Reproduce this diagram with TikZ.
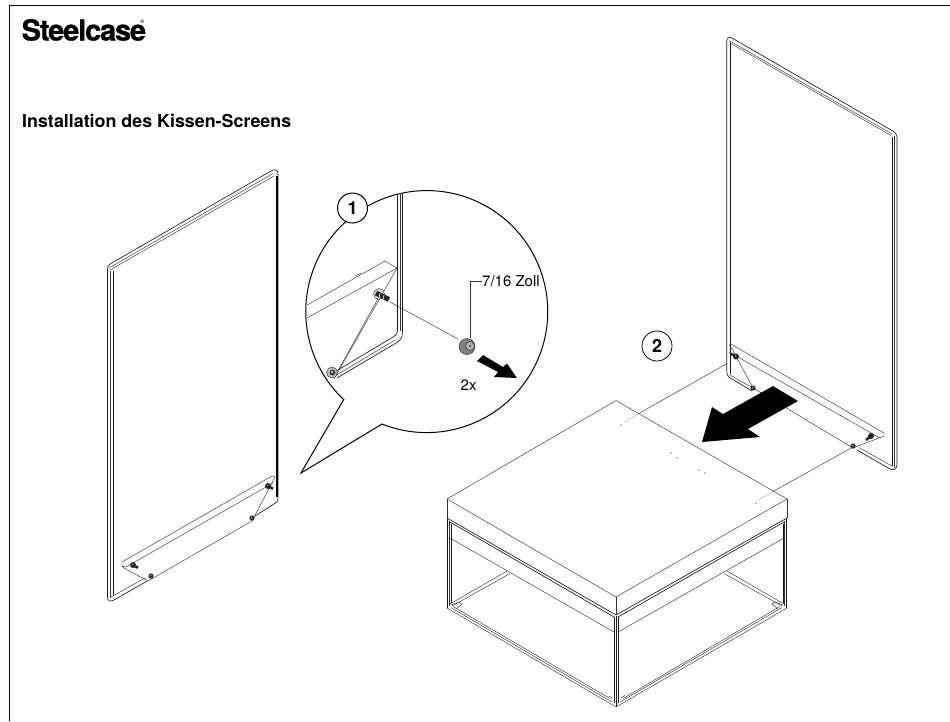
\documentclass[tikz,border=0pt]{standalone}
\usepackage{fontspec}
\setmainfont{TeX Gyre Heros}
\tikzset{
  thin line/.style={line width=0.45pt,draw=black!80},
  frame line/.style={line width=0.65pt,draw=black!90},
  heavy line/.style={line width=1.1pt,draw=black},
  pale line/.style={line width=0.4pt,draw=black!35},
  solid arrow/.style={fill=black,draw=none},
  label text/.style={inner sep=0pt,font=\fontsize{15}{16}\selectfont},
  mark dot/.style={fill=black!45,draw=none},
  step number/.style={circle,draw=black,fill=white,minimum size=30pt,inner sep=0pt,font=\fontsize{18}{20}\bfseries},
}
\newcommand{\screwat}[3]{%
  \draw[line width=2.6pt,black!85] (#1,#2) -- (#1+#3,#2+#3*0.55);
  \fill[black!85] (#1,#2) circle (3);
  \fill[black!35] (#1-0.4,#2-0.6) circle (0.8);
}
\newcommand{\rivetat}[2]{%
  \fill[black!80] (#1,#2) circle (2.7);
  \fill[black!40] (#1-0.5,#2-0.5) circle (0.8);
}
\begin{document}
\begin{tikzpicture}[x=1pt,y=-1pt]
\useasboundingbox (0,0) rectangle (950,721);
\fill[white] (0,0) rectangle (950,721);
% page frame
\draw[line width=0.8pt] (950,5) -- (9.5,5) -- (9.5,721);
% heading
\node[anchor=base west,inner sep=0pt] (logo) at (21.5,40.5)
  {\fontsize{29}{30}\bfseries\addfontfeature{LetterSpace=-4,FakeBold=0.8}Steelcase};
\node[anchor=base west,inner sep=0pt] (reg) at (140.5,23)
  {\fontsize{5}{5}\selectfont ®};
\node[anchor=base west,inner sep=0pt] (title) at (22,127.5)
  {\fontsize{17.85}{20}\bfseries Installation des Kissen-Screens};

% ---------- left panel
\draw[frame line,line join=round] (147,581) -- (114,600) .. controls (110,602) and (107.5,601) .. (107.5,597) -- (107.5,269)
  .. controls (107.5,266) and (108,265) .. (111,263.5) -- (271,171) .. controls (275,168.5) and (278,170) .. (278,174) -- (278,497)
  .. controls (278,501) and (277,503) .. (274,504) -- (255,516);
\draw[thin line] (111,597) -- (145,578);
\draw[thin line] (109,268) -- (273,173.5);
\draw[thin line] (110,270) -- (274,176);
\draw[thin line] (110.5,271) -- (110.5,598);
\draw[frame line] (113.5,271) -- (113.5,596);
\draw[heavy line,line width=2pt] (276.5,176) -- (276.5,497);
% bracket left
\draw[thin line] (122,562) -- (272,476) -- (275,477) -- (252,521) -- (148,581) -- (124,568) -- (122,566) -- cycle;
\draw[thin line] (126,567) -- (273,483);
\draw[thin line] (122,566) -- (126,567);
\screwat{133}{565}{5}
\screwat{268}{486}{5}
\rivetat{151}{576}
\rivetat{252}{518}

% ---------- bubble
\draw[line width=1pt,fill=white,line join=miter] (344,399) -- (301,473) -- (382,424)
  arc[start angle=111.7,end angle=-226.7,radius=121] -- cycle;
% detail in bubble
\draw[frame line] (397.5,194) -- (397.5,330) .. controls (397.5,334) and (396,335) .. (393,337) -- (333,373);
\draw[thin line] (400,193) -- (400,331);
\draw[frame line] (402.5,193) -- (402.5,332) .. controls (402.5,338) and (400,341) .. (396,343) -- (337,378);
\draw[thin line] (395,340) -- (335,376);
\draw[thin line] (307,305) -- (385,261) -- (397,268) -- (334,379);
\draw[thin line] (307,318) -- (397,268);
\draw[thin line] (339,369) -- (380,295);
\draw[thin line] (390,302) -- (458,339);
\draw[thin line] (355,276) -- (361,273);
% screw in bubble
\draw[thin line,fill=black!15] (379,294) circle (5.5);
\draw[line width=5pt,black!85] (376,293) -- (389,299.5);
\draw[line width=0.6pt,white] (380,293) -- (379,298) (384,295) -- (383,300);
% nut on panel
\draw[thin line,fill=black!25] (332,372.5) circle (5.5);
\fill[black!75] (332.5,372.5) circle (3);
\fill[black!15] (332,372) circle (1.2);
% nut
\node[circle,inner sep=0pt,minimum size=16pt,fill=black!50,draw=black!80,line width=0.5pt] (nut) at (467,346.5) {};
\draw[line width=0.6pt,black!75,fill=black!30] (470,346) circle (4.5);
\fill[black!70] (470,346) circle (1.2);
\node[label text,anchor=base west] (size) at (482,286) {7/16 Zoll};
\draw[thin line] (size.west |- 0,281) -- (470,281) -- (nut.north -| 470,0);
\fill[solid arrow] (477,361) -- (483,355) -- (503,367) -- (507,363.5) -- (517,378) -- (494,377) -- (498,372) -- cycle;
\node[label text,anchor=base west] (count) at (460.5,390) {2x};
\node[step number,line width=1pt] (one) at (352.5,208) {1};

% ---------- right panel
\draw[frame line,line join=round] (752,391) -- (732,379) .. controls (728,377) and (726.8,375) .. (726.8,371) -- (726.8,41)
  .. controls (726.8,38) and (729,36.5) .. (732,38) -- (891,130) .. controls (895,132) and (897,134) .. (897,138) -- (897,464)
  .. controls (897,469) and (894,471) .. (890,469) -- (857,450);
\draw[frame line] (730,42) -- (730,374);
\draw[thin line] (730,375) -- (752,387.5);
\draw[thin line] (729,40.5) -- (892,134);
\draw[thin line] (730,43) -- (891,135.5);
\draw[frame line] (892.3,137) -- (892.3,466);
\draw[thin line] (894.6,136) -- (894.6,468);
\draw[thin line] (859,447.5) -- (892,466);
% bracket right
\draw[thin line] (729,346) -- (731,344) -- (884,433) -- (884,436) -- (853,448) -- (753,388) -- (730,345);
\draw[thin line] (729,352) -- (880,438);
\screwat{736}{356.5}{-5}
\draw[line width=2.6pt,black!85] (866,440) -- (871,436);
\fill[black!85] (871,436) circle (3);
\rivetat{753}{388}
\rivetat{853}{446}

% guide lines
\draw[thin line] (727,363.5) -- (638,414);
\draw[pale line] (638,414) -- (625,422);
\draw[thin line] (853,447) -- (773,491.5);
\draw[pale line] (773,491.5) -- (758,500);

% ---------- table
\draw[thin line] (616,400.5) -- (787,499) -- (616,597) -- (447,499) -- cycle;
\draw[thin line] (447,499) -- (447,518);
\draw[thin line] (787,499) -- (787,518);
\draw[thin line] (616,597) -- (616,615);
\draw[frame line] (447,518) -- (616,615) -- (787,518);
\draw[frame line] (450,522) -- (614,617);
\draw[frame line] (618,617) -- (784,522);
\draw[thin line] (450,538) -- (614,632);
\draw[thin line] (618,632) -- (784,538);
% legs
\draw[frame line] (447.3,518) -- (447.3,608);
\draw[thin line] (449.5,521) -- (449.5,606);
\draw[frame line] (451,524) -- (451,603);
\draw[frame line] (786.7,518) -- (786.7,608);
\draw[thin line] (784.5,521) -- (784.5,606);
\draw[frame line] (783,524) -- (783,603);
\draw[frame line] (616,616) -- (616,707);
\draw[frame line] (614,617) -- (614,703);
\draw[frame line] (618,617) -- (618,703);
% floor bars
\draw[thin line] (447,608) -- (616,707) -- (787,608);
\draw[thin line] (451,607.6) -- (612,702);
\draw[thin line] (453,606.5) -- (610,698.5);
\draw[thin line] (782,607.6) -- (620,702);
\draw[thin line] (780,606.5) -- (623,698.5);
\draw[thin line] (450,604) -- (507,571);
\draw[thin line] (452,606) -- (510,573.5);
\draw[thin line] (784,604) -- (727,571);
\draw[thin line] (782,606) -- (724,573.5);
% corner pads
\draw[thin line] (451,605) -- (459,602) -- (462,604) -- (456,609);
\draw[thin line] (783,605) -- (775,602) -- (772,604) -- (778,609);
\draw[thin line] (609,696) -- (612,698);
\draw[thin line] (621,698) -- (625,695);
% dots on the table
\foreach \px/\py in {621/425,671/453,677/458,699/470,705/473,756/503}
  \fill[mark dot] (\px,\py) circle (0.9);
% big arrow
\fill[solid arrow] (773,386) -- (798,401) -- (748,429) -- (760,437) -- (702,442) -- (712,407) -- (723,414) -- cycle;
\node[step number,line width=0.8pt] (two) at (657,346) {2};
\end{tikzpicture}
\end{document}
